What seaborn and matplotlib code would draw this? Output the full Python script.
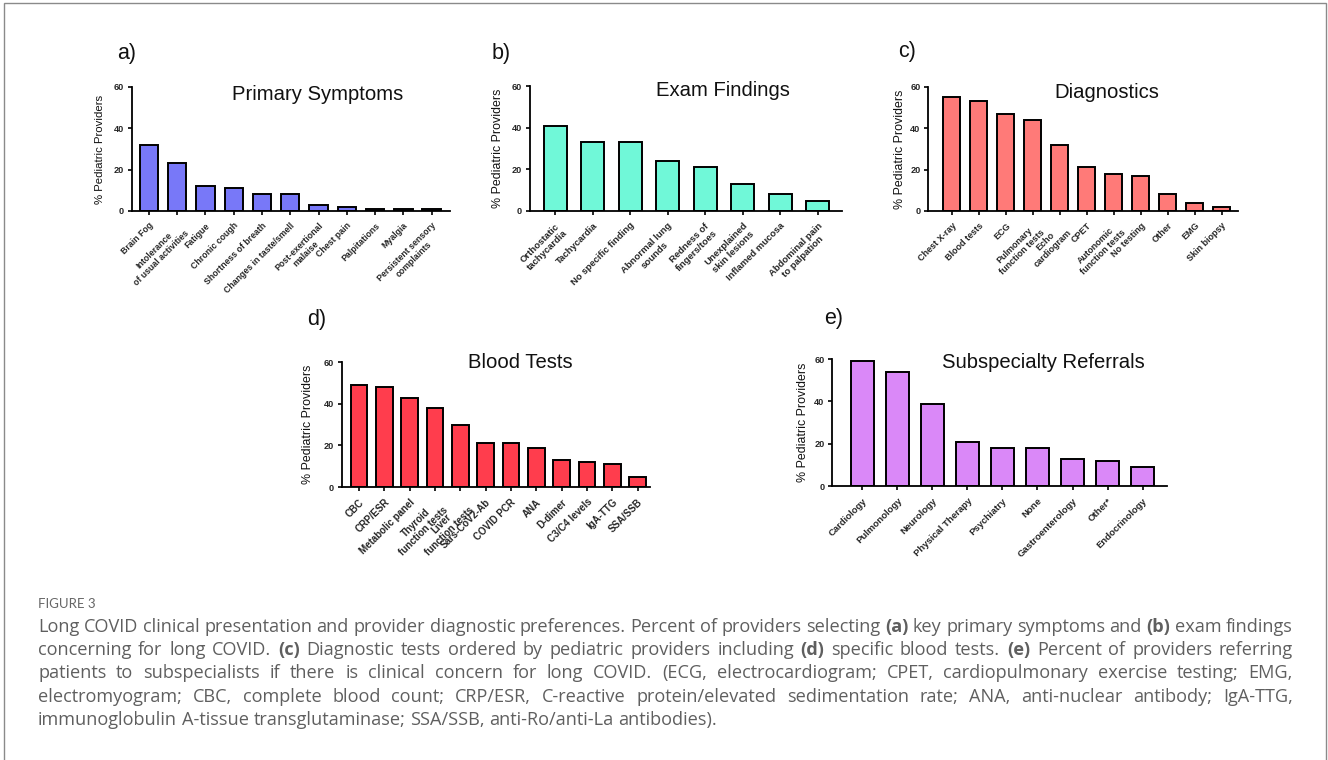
import re
import matplotlib
matplotlib.use("Agg")
import matplotlib.pyplot as plt
import seaborn as sns
import pandas as pd
from matplotlib.patches import Rectangle

# ---------------- data ----------------
sym_cats = ["Brain Fog", "Intolerance\nof usual activities", "Fatigue", "Chronic cough",
            "Shortness of breath", "Changes in taste/smell", "Post-exertional\nmalaise",
            "Chest pain", "Palpitations", "Myalgia", "Persistent sensory\ncomplaints"]
sym_vals = [32, 23, 12, 11, 8, 8, 3, 2, 1, 1, 1]

exam_cats = ["Orthostatic\ntachycardia", "Tachycardia", "No specific finding",
             "Abnormal lung\nsounds", "Redness of\nfingers/toes", "Unexplained\nskin lesions",
             "Inflamed mucosa", "Abdominal pain\nto palpation"]
exam_vals = [41, 33, 33, 24, 21, 13, 8, 5]

diag_cats = ["Chest X-ray", "Blood tests", "ECG", "Pulmonary\nfunction tests", "Echo\ncardiogram",
             "CPET", "Autonomic\nfunction tests", "No testing", "Other", "EMG", "Skin biopsy"]
diag_vals = [55, 53, 47, 44, 32, 21, 18, 17, 8, 4, 2]

blood_cats = ["CBC", "CRP/ESR", "Metabolic panel", "Thyroid\nfunction tests", "Liver\nfunction tests",
              "Sars-CoV2-Ab", "COVID PCR", "ANA", "D-dimer", "C3/C4 levels", "IgA-TTG", "SSA/SSB"]
blood_vals = [49, 48, 43, 38, 30, 21, 21, 19, 13, 12, 11, 5]

ref_cats = ["Cardiology", "Pulmonology", "Neurology", "Physical Therapy", "Psychiatry", "None",
            "Gastroenterology", "Other*", "Endocrinology"]
ref_vals = [59, 54, 39, 21, 18, 18, 13, 12, 9]

y_ticks = [0, 20, 40, 60]
y_label = "% Pediatric Providers"
titles = ["Primary Symptoms", "Exam Findings", "Diagnostics", "Blood Tests", "Subspecialty Referrals"]
panel_letters = ["a)", "b)", "c)", "d)", "e)"]

caption_head = "FIGURE 3"
caption_lines = [
    "Long COVID clinical presentation and provider diagnostic preferences. Percent of providers selecting (a) key primary symptoms and (b) exam findings",
    "concerning for long COVID. (c) Diagnostic tests ordered by pediatric providers including (d) specific blood tests. (e) Percent of providers referring",
    "patients to subspecialists if there is clinical concern for long COVID. (ECG, electrocardiogram; CPET, cardiopulmonary exercise testing; EMG,",
    "electromyogram; CBC, complete blood count; CRP/ESR, C-reactive protein/elevated sedimentation rate; ANA, anti-nuclear antibody; IgA-TTG,",
    "immunoglobulin A-tissue transglutaminase; SSA/SSB, anti-Ro/anti-La antibodies).",
]

# ---------------- style ----------------
sns.set_theme(style="ticks")
plt.rcParams["font.family"] = ["Liberation Sans", "DejaVu Sans"]

W, H = 1328, 760
fig = plt.figure(figsize=(W / 100, H / 100), dpi=100)
fig.patch.set_facecolor("white")

# layout (pixel geometry of each axes: x0, x1, y_top, y_bottom), xlim, bar width, colour
panels = [
    dict(cats=sym_cats, vals=sym_vals, box=(131.7, 450, 87, 211), xlim=(-0.61, 10.65), bw=0.65,
         color="#7878F8", title_xy=(318, 94), letter_xy=(127, 53), ylab_x=-0.084, xfs=6.3, yfs=8.2),
    dict(cats=exam_cats, vals=exam_vals, box=(530, 841.7, 86, 211), xlim=(-0.67, 7.64), bw=0.62,
         color="#70F8D8", title_xy=(723, 91), letter_xy=(501, 53), ylab_x=-0.083, xfs=6.8, yfs=8.9),
    dict(cats=diag_cats, vals=diag_vals, box=(928.3, 1238, 86.7, 211), xlim=(-0.87, 10.6), bw=0.62,
         color="#FF7A78", title_xy=(1107, 92), letter_xy=(907, 52), ylab_x=-0.072, xfs=6.5, yfs=8.9),
    dict(cats=blood_cats, vals=blood_vals, box=(341.7, 650, 362.3, 487), xlim=(-0.68, 11.49), bw=0.66,
         color="#FF3D4D", title_xy=(520, 362), letter_xy=(317, 320), ylab_x=-0.091, xfs=7.0, yfs=8.9),
    dict(cats=ref_cats, vals=ref_vals, box=(832.3, 1166.7, 359, 486.3), xlim=(-0.86, 8.69), bw=0.64,
         color="#DA88F8", title_xy=(1043, 363), letter_xy=(834, 318), ylab_x=-0.069, xfs=6.8, yfs=8.9),
]

for i, p in enumerate(panels):
    x0, x1, yt, yb = p["box"]
    ax = fig.add_axes([x0 / W, 1 - yb / H, (x1 - x0) / W, (yb - yt) / H])
    df = pd.DataFrame({"cat": p["cats"], "val": p["vals"]})
    sns.barplot(data=df, x="cat", y="val", ax=ax, color=p["color"], saturation=1,
                width=p["bw"], edgecolor="black", linewidth=1.4)
    ax.set_facecolor("none")
    ax.set_xlim(*p["xlim"])
    ax.set_ylim(0, 60)
    ax.set_yticks(y_ticks)
    ax.set_yticklabels([str(t) for t in y_ticks], fontsize=6.6, fontweight="bold")
    ax.set_xticks(range(len(p["cats"])))
    ax.set_xticklabels(p["cats"], rotation=45, ha="right", rotation_mode="anchor",
                       fontsize=p["xfs"], fontweight="bold", multialignment="center")
    ax.tick_params(axis="both", direction="out", length=3.2, width=1.2, color="black", pad=2.5)
    ax.tick_params(axis="x", pad=4)
    for s in ["top", "right"]:
        ax.spines[s].set_visible(False)
    for s in ["left", "bottom"]:
        ax.spines[s].set_linewidth(1.3)
        ax.spines[s].set_color("black")
    ax.set_xlabel("")
    ax.set_ylabel(y_label, fontsize=p["yfs"], color="#111111")
    ax.yaxis.set_label_coords(p["ylab_x"], 0.5)
    fig.text(p["title_xy"][0] / W, 1 - p["title_xy"][1] / H, titles[i], fontsize=14.6,
             ha="center", va="center", color="#111111")
    fig.text(p["letter_xy"][0] / W, 1 - p["letter_xy"][1] / H, panel_letters[i], fontsize=15.5,
             ha="center", va="center", color="#111111")

# ---------------- caption (justified) ----------------
cap_font = ["Open Sans", "DejaVu Sans"]
cap_color = "#5f5f5f"
cap_size = 13.1
fig.text(38 / W, 1 - 604 / H, caption_head, fontsize=9.5, color="#666666",
         family=["Liberation Sans Narrow", "Lato", "DejaVu Sans"], ha="left", va="center")

renderer = fig.canvas.get_renderer()
left_px, right_px = 38, 1293
line_y = [627, 650, 673, 697, 720]
probe_a = fig.text(0, 0, "x x", fontsize=cap_size, family=cap_font)
probe_b = fig.text(0, 0, "xx", fontsize=cap_size, family=cap_font)
space_w = probe_a.get_window_extent(renderer).width - probe_b.get_window_extent(renderer).width
probe_a.remove()
probe_b.remove()

for li, line in enumerate(caption_lines):
    words = line.split(" ")
    texts = []
    for w in words:
        bold = re.fullmatch(r"\([a-e]\)", w) is not None
        t = fig.text(0, 1 - line_y[li] / H, w, fontsize=cap_size, family=cap_font, color=cap_color,
                     fontweight="bold" if bold else "normal", ha="left", va="center")
        texts.append(t)
    widths = [t.get_window_extent(renderer).width for t in texts]
    if li == len(caption_lines) - 1:
        gap = space_w
    else:
        gap = (right_px - left_px - sum(widths)) / (len(words) - 1)
    x = left_px
    for t, wd in zip(texts, widths):
        t.set_x(x / W)
        x += wd + gap

# border frame
fig.patches.append(Rectangle((4 / W, -0.05), (1326 - 4) / W, 1.05 - 3 / H, transform=fig.transFigure,
                             fill=False, edgecolor="#8a8a8a", linewidth=1.0, clip_on=False))

fig.savefig("out.png", dpi=100, facecolor="white")
